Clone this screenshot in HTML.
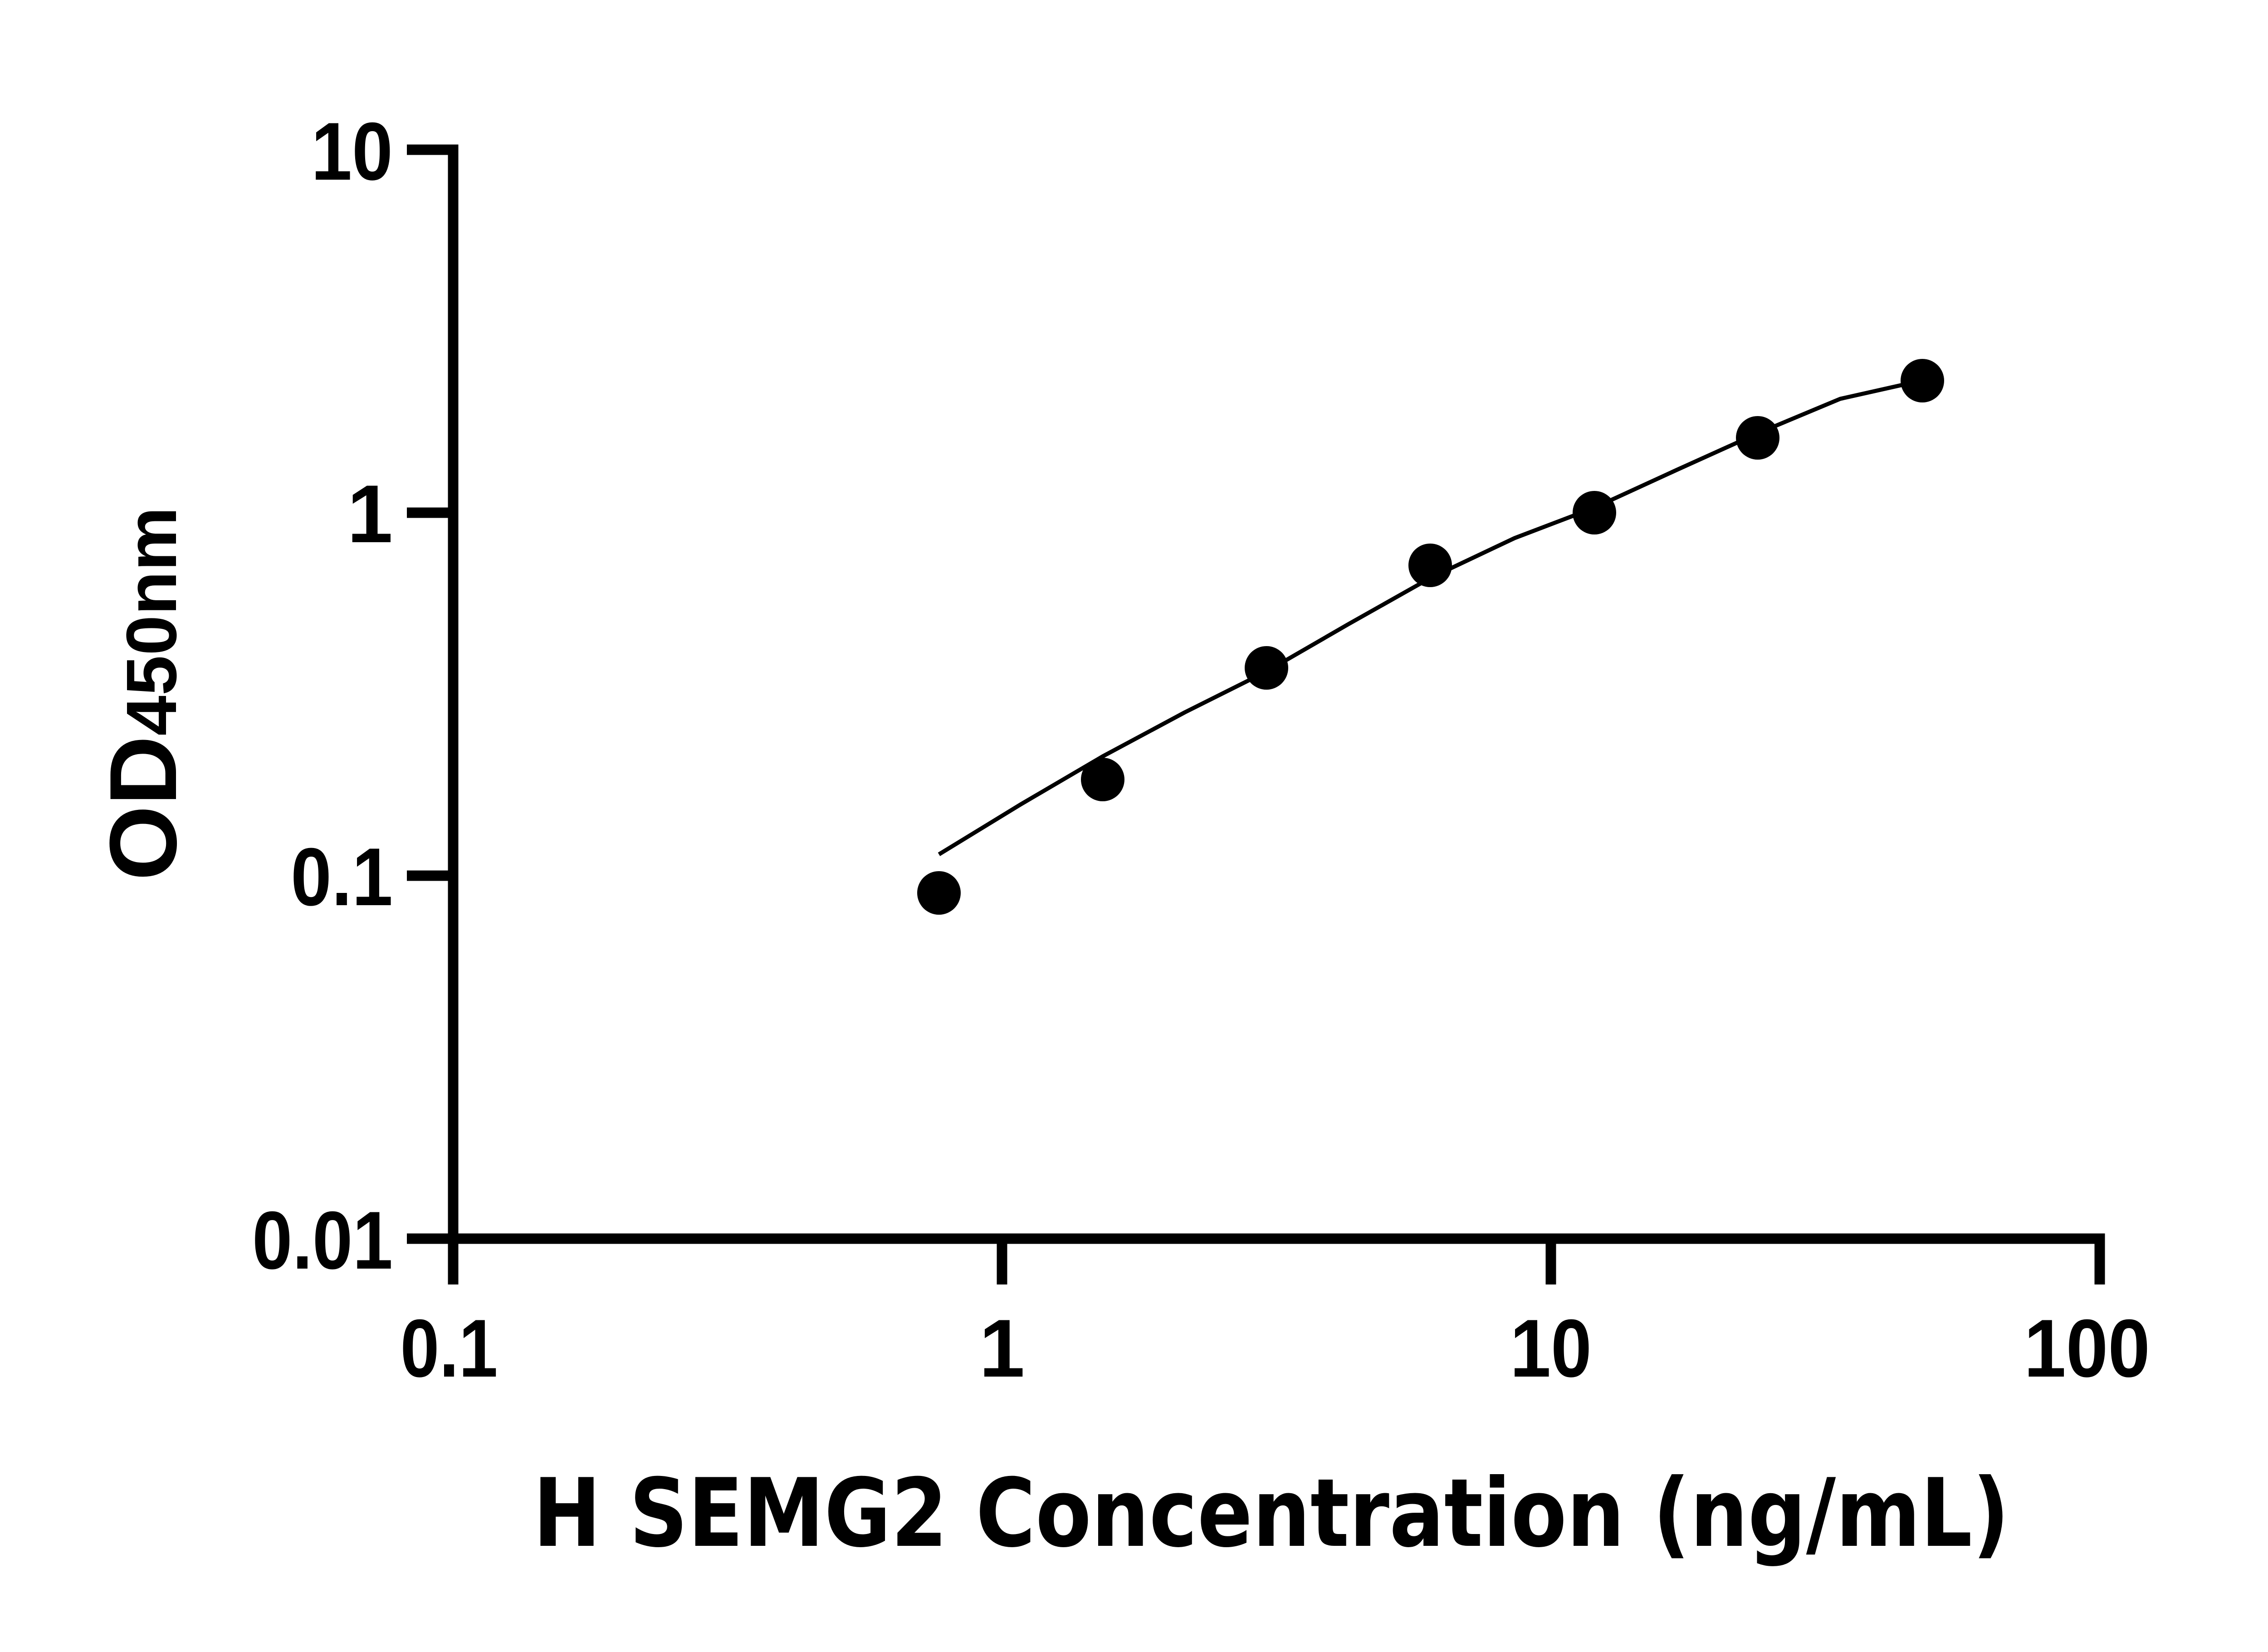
<!DOCTYPE html>
<html><head><style>html,body{margin:0;padding:0;background:#fff}</style></head>
<body>
<svg width="5170" height="3636" viewBox="0 0 5170 3636" xmlns="http://www.w3.org/2000/svg">
<rect width="5170" height="3636" fill="#fff"/>
<g stroke="#000" stroke-width="23" fill="none" stroke-linecap="butt">
<polyline points="897,330 999,330 999,2730 4629,2730 4629,2831" stroke-linejoin="miter"/>
<line x1="897" y1="1130" x2="999" y2="1130"/>
<line x1="897" y1="1930" x2="999" y2="1930"/>
<line x1="897" y1="2730" x2="999" y2="2730"/>
<line x1="999" y1="2730" x2="999" y2="2831"/>
<line x1="2209" y1="2730" x2="2209" y2="2831"/>
<line x1="3419" y1="2730" x2="3419" y2="2831"/>
</g>
<polyline points="2070,1883 2250,1773 2431,1667 2612,1570 2792,1480 2972,1376 3153,1274 3339,1186 3515,1119 3698,1035 3875,955 4057,879 4200,847" stroke="#000" stroke-width="9" fill="none" stroke-linejoin="round"/>
<g fill="#000">
<circle cx="2070" cy="1968" r="48"/>
<circle cx="2431" cy="1718" r="48"/>
<circle cx="2792" cy="1472" r="48"/>
<circle cx="3153" cy="1246" r="48"/>
<circle cx="3515" cy="1130" r="48"/>
<circle cx="3875" cy="965" r="48"/>
<circle cx="4238" cy="839" r="48"/>
</g>
<g font-family="Liberation Sans, sans-serif" font-weight="bold" font-size="181" fill="#000">
<text x="866" y="396" text-anchor="end" textLength="180" lengthAdjust="spacingAndGlyphs">10</text>
<text x="866" y="1195" text-anchor="end">1</text>
<text x="866" y="1995" text-anchor="end" textLength="225" lengthAdjust="spacingAndGlyphs">0.1</text>
<text x="866" y="2796" text-anchor="end" textLength="310" lengthAdjust="spacingAndGlyphs">0.01</text>
<text x="990" y="3034" text-anchor="middle" textLength="215" lengthAdjust="spacingAndGlyphs">0.1</text>
<text x="2209" y="3034" text-anchor="middle">1</text>
<text x="3419" y="3034" text-anchor="middle" textLength="180" lengthAdjust="spacingAndGlyphs">10</text>
<text x="4601" y="3034" text-anchor="middle" textLength="278" lengthAdjust="spacingAndGlyphs">100</text>
</g>
<text x="1175" y="3407" font-family="DejaVu Sans, sans-serif" font-weight="bold" font-size="208" textLength="3255" lengthAdjust="spacingAndGlyphs" fill="#000">H SEMG2 Concentration (ng/mL)</text>
<g transform="translate(388,1941) rotate(-90)">
<text x="0" y="0" font-family="Liberation Sans, sans-serif" font-weight="bold" fill="#000" textLength="824" lengthAdjust="spacingAndGlyphs"><tspan font-size="210">OD</tspan><tspan font-size="157">450nm</tspan></text>
</g>
</svg>
</body></html>
